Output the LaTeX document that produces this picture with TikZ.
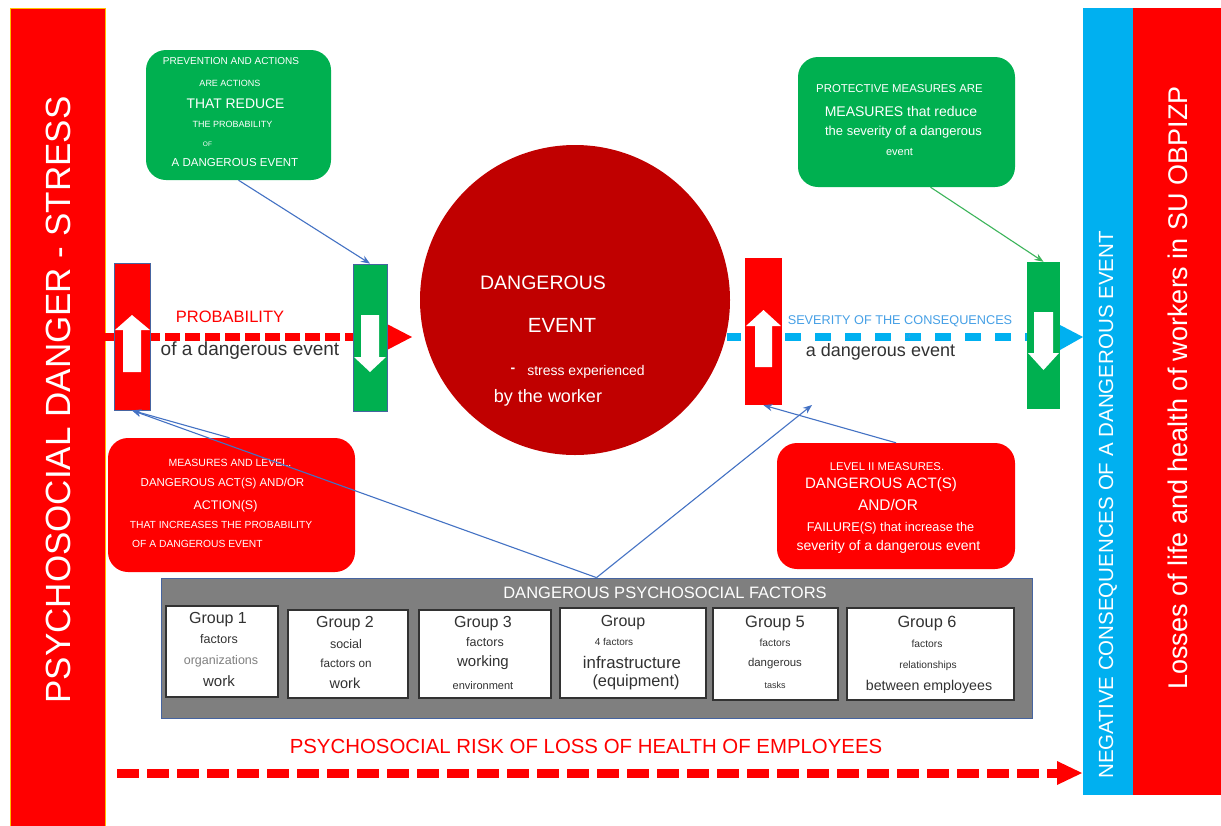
\documentclass[tikz,border=0pt]{standalone}
\usepackage{fontspec}
\setmainfont{Liberation Sans}
\usetikzlibrary{arrows.meta}
\newcommand\fsz[1]{\fontsize{#1}{#1}\selectfont}
\definecolor{cred}{RGB}{255,0,0}
\definecolor{cdark}{RGB}{192,0,0}
\definecolor{cgreen}{RGB}{0,176,80}
\definecolor{cblue}{RGB}{0,176,240}
\definecolor{cgray}{RGB}{127,127,127}
\definecolor{cconn}{RGB}{68,114,196}
\definecolor{cgconn}{RGB}{60,180,90}
\definecolor{csev}{RGB}{70,160,230}
\definecolor{ctext}{RGB}{50,50,50}
\definecolor{cyel}{RGB}{255,192,0}
\definecolor{cbarline}{RGB}{70,100,160}
\begin{document}
\begin{tikzpicture}[x=1pt,y=-1pt,
  lbl/.style={inner sep=0pt,anchor=center,text=white},
  dlbl/.style={inner sep=0pt,anchor=center,text=ctext},
  rbox/.style={fill=cred,rounded corners=20pt,inner sep=0pt},
  gbox/.style={fill=cgreen,rounded corners=20pt,inner sep=0pt},
  bar/.style={draw=cbarline,line width=0.8pt,inner sep=0pt},
  grp/.style={draw=ctext,fill=white,line width=1.2pt,inner sep=0pt},
  conn/.style={draw=cconn,line width=1.1pt,-{Stealth[length=9pt,width=7pt]}},
  gconn/.style={draw=cgconn,line width=1.1pt,-{Stealth[length=9pt,width=7pt]}},
  warrow/.style={fill=white}]
\useasboundingbox (0,0) rectangle (1221,825);
\fill[white] (0,0) rectangle (1221,825);

% side bars
\node[fill=cred,draw=cyel,line width=0.8pt,inner sep=0pt,minimum width=95pt,minimum height=822pt] (lbar) at (57.5,419) {};
\node[lbl,rotate=90] (lbart) at (58,400) {\fsz{35}PSYCHOSOCIAL DANGER - STRESS};
\node[fill=cblue,inner sep=0pt,minimum width=50pt,minimum height=787pt] (bbar) at (1108,401.5) {};
\node[lbl,rotate=90] (bbart) at (1108,505) {\fsz{20.5}NEGATIVE CONSEQUENCES OF A DANGEROUS EVENT};
\node[fill=cred,inner sep=0pt,minimum width=88pt,minimum height=787pt] (rbar) at (1177,401.5) {};
\node[lbl,rotate=90] (rbart) at (1178,388) {\fsz{27}Losses of life and health of workers in SU OBPIZP};

% dashed arrows
\coordinate (pa) at (105,337);
\coordinate (pb) at (387,337);
\coordinate (pc) at (412,337);
\draw[cred,line width=8pt,dash pattern=on 15pt off 5pt] (pa) -- (pb);
\fill[cred] (387,324) -- (pc) -- (387,350) -- cycle;
\coordinate (sa) at (727,337);
\coordinate (sb) at (1060,337);
\coordinate (sc) at (1083,337);
\draw[cblue,line width=8pt,dash pattern=on 16pt off 14pt,dash phase=2pt] (sa) -- (sb);
\fill[cblue] (1060,325) -- (sc) -- (1060,350) -- cycle;
\coordinate (ba) at (117,773);
\coordinate (bb) at (1057,773);
\coordinate (bc) at (1082,773);
\draw[cred,line width=9pt,dash pattern=on 22pt off 8pt] (ba) -- (bb);
\fill[cred] (1057,761) -- (bc) -- (1057,785) -- cycle;

% central event
\node[circle,fill=cdark,inner sep=0pt,minimum size=310pt] (ev) at (575,300) {};
\node[lbl] (ev1) at (543,283) {\fsz{19.5}DANGEROUS};
\node[lbl] (ev2) at (562,325) {\fsz{20.5}EVENT};
\node[lbl] (ev3) at (513,370) {\fsz{14}\textbf{-}};
\node[lbl] (ev4) at (586,372) {\fsz{14}stress experienced};
\node[lbl] (ev5) at (548,398) {\fsz{18}by the worker};

% small bars
\node[bar,fill=cred,minimum width=36pt,minimum height=147pt] (rbarL) at (132,336.5) {};
\fill[warrow] (132,315) -- (150,330) -- (141,330) -- (141,372) -- (123,372) -- (123,330) -- (115,330) -- cycle;
\node[bar,fill=cgreen,minimum width=34pt,minimum height=147pt] (gbarL) at (370,337.5) {};
\fill[warrow] (361,315) -- (379,315) -- (379,357) -- (386,357) -- (370,372) -- (354,357) -- (361,357) -- cycle;
\node[fill=cred,inner sep=0pt,minimum width=37pt,minimum height=147pt] (rbarR) at (763.5,331.5) {};
\fill[warrow] (763.5,310) -- (781,326) -- (772,326) -- (772,367) -- (755,367) -- (755,326) -- (746,326) -- cycle;
\node[fill=cgreen,inner sep=0pt,minimum width=33pt,minimum height=147pt] (gbarR) at (1043.5,335.5) {};
\fill[warrow] (1034,312) -- (1053,312) -- (1053,353) -- (1059,353) -- (1043.5,370) -- (1028,353) -- (1034,353) -- cycle;

% arrow labels
\node[inner sep=0pt,text=cred] (prob) at (230,317) {\fsz{16.5}PROBABILITY};
\node[dlbl] (prob2) at (250,350.5) {\fsz{19}of a dangerous event};
\node[inner sep=0pt,text=csev] (sev) at (900,321) {\fsz{12.7}SEVERITY OF THE CONSEQUENCES};
\node[inner sep=0pt,text=csev] (sevof) at (908,336) {\fsz{6}of};
\node[dlbl] (sev2) at (880.5,352) {\fsz{18}a dangerous event};

% top-left green box
\node[gbox,minimum width=185pt,minimum height=130pt] (tlg) at (238.5,115) {};
\node[lbl] (tl1) at (231,61) {\fsz{10}PREVENTION AND ACTIONS};
\node[lbl] (tl2) at (230,83) {\fsz{9}ARE ACTIONS};
\node[lbl] (tl3) at (235.5,104) {\fsz{13.9}THAT REDUCE};
\node[lbl] (tl4) at (232.5,124) {\fsz{9}THE PROBABILITY};
\node[lbl] (tl5) at (207.5,144) {\fsz{6.5}OF};
\node[lbl] (tl6) at (235,163) {\fsz{11.5}A DANGEROUS EVENT};

% top-right green box
\node[gbox,minimum width=217pt,minimum height=130pt] (trg) at (906.5,122) {};
\node[lbl] (tr1) at (899.5,89) {\fsz{11.4}PROTECTIVE MEASURES ARE};
\node[lbl] (tr2) at (901,111) {\fsz{14}MEASURES that reduce};
\node[lbl] (tr3) at (903.5,132) {\fsz{13}the severity of a dangerous};
\node[lbl] (tr4) at (899.5,152) {\fsz{11}event};

% bottom-left red box
\node[rbox,minimum width=247pt,minimum height=134pt] (blr) at (231.5,505) {};
\node[lbl] (bl1) at (230,463) {\fsz{10.5}MEASURES AND LEVEL.};
\node[lbl] (bl2) at (222.5,484) {\fsz{11.5}DANGEROUS ACT(S) AND/OR};
\node[lbl] (bl3) at (225.5,506) {\fsz{12.5}ACTION(S)};
\node[lbl] (bl4) at (221,525) {\fsz{10.3}THAT INCREASES THE PROBABILITY};
\node[lbl,anchor=west] (bl5) at (132,544) {\fsz{10.3}OF A DANGEROUS EVENT};

% bottom-right red box
\node[rbox,minimum width=238pt,minimum height=126pt] (brr) at (896,506) {};
\node[lbl] (br1) at (887,467) {\fsz{11.3}LEVEL II MEASURES.};
\node[lbl] (br2) at (881,485) {\fsz{15.1}DANGEROUS ACT(S)};
\node[lbl] (br3) at (888,505) {\fsz{15.4}AND/OR};
\node[lbl] (br4) at (890.5,528) {\fsz{12.7}FAILURE(S) that increase the};
\node[lbl] (br5) at (888.5,547) {\fsz{14}severity of a dangerous event};

% factors box
\node[fill=cgray,draw=cbarline,line width=0.8pt,inner sep=0pt,minimum width=871pt,minimum height=140pt] (fac) at (596.5,648) {};
\node[lbl] (fact) at (665,593) {\fsz{16.5}DANGEROUS PSYCHOSOCIAL FACTORS};

\node[grp,minimum width=112pt,minimum height=91pt] (g1) at (222,651.5) {};
\node[dlbl] (g1a) at (218,620) {\fsz{16}Group 1};
\node[dlbl] (g1b) at (219,639) {\fsz{12.5}factors};
\node[inner sep=0pt,text=gray] (g1c) at (221,661) {\fsz{12.5}organizations};
\node[dlbl] (g1d) at (219,681) {\fsz{15}work};

\node[grp,minimum width=120pt,minimum height=88pt] (g2) at (348,654) {};
\node[dlbl] (g2a) at (345,624) {\fsz{16}Group 2};
\node[dlbl] (g2b) at (346,644) {\fsz{12.5}social};
\node[dlbl] (g2c) at (346,663) {\fsz{11.7}factors on};
\node[dlbl] (g2d) at (345,683) {\fsz{14.5}work};

\node[grp,minimum width=132pt,minimum height=88pt] (g3) at (485,654) {};
\node[dlbl] (g3a) at (483,624) {\fsz{16}Group 3};
\node[dlbl] (g3b) at (485,642) {\fsz{12.5}factors};
\node[dlbl] (g3c) at (483,663) {\fsz{15}working};
\node[dlbl] (g3d) at (483,686) {\fsz{11}environment};

\node[grp,minimum width=146pt,minimum height=90pt] (g4) at (633,653) {};
\node[dlbl] (g4a) at (623,623) {\fsz{16}Group};
\node[dlbl] (g4b) at (614,642) {\fsz{10}4 factors};
\node[dlbl] (g4c) at (632,662) {\fsz{16.8}infrastructure};
\node[dlbl] (g4d) at (636,682) {\fsz{16.3}(equipment)};

\node[grp,minimum width=125pt,minimum height=92pt] (g5) at (775.5,654) {};
\node[dlbl] (g5a) at (775,623) {\fsz{16.5}Group 5};
\node[dlbl] (g5b) at (775,643) {\fsz{10.3}factors};
\node[dlbl] (g5c) at (775,664) {\fsz{11.4}dangerous};
\node[dlbl] (g5d) at (775,685) {\fsz{9}tasks};

\node[grp,minimum width=167pt,minimum height=92pt] (g6) at (930.5,654) {};
\node[dlbl] (g6a) at (927,623) {\fsz{16.3}Group 6};
\node[dlbl] (g6b) at (927,644) {\fsz{10.3}factors};
\node[dlbl] (g6c) at (928,666) {\fsz{10.2}relationships};
\node[dlbl] (g6d) at (929,687) {\fsz{14.2}between employees};

% bottom risk label
\node[inner sep=0pt,text=cred] (risk) at (586,746) {\fsz{20.4}PSYCHOSOCIAL RISK OF LOSS OF HEALTH OF EMPLOYEES};

% connectors
\coordinate (sevpt) at (812,405);
\draw[conn] (tlg.south) -- (gbarL.north);
\draw[gconn] ([xshift=24pt]trg.south) -- (gbarR.north);
\draw[conn] (fac.north) -- (rbarL.south);
\draw[conn] ([xshift=-2pt]blr.north) -- (rbarL.south);
\draw[conn] (fac.north) -- (sevpt);
\draw[conn] (brr.north) -- (rbarR.south);
\end{tikzpicture}
\end{document}
